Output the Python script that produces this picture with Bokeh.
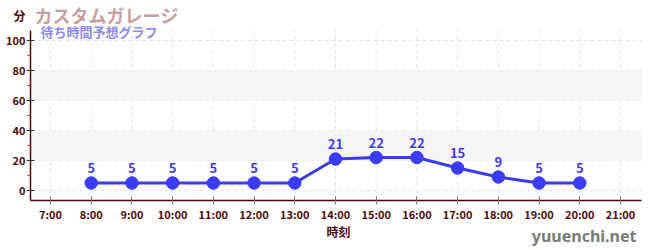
from bokeh.plotting import figure
from bokeh.models import (FixedTicker, BoxAnnotation, Label, ColumnDataSource, Range1d, LabelSet)
from bokeh.core.properties import value
from bokeh.embed import file_html
from bokeh.resources import INLINE

hours = [8, 9, 10, 11, 12, 13, 14, 15, 16, 17, 18, 19, 20]
waits = [5, 5, 5, 5, 5, 5, 21, 22, 22, 15, 9, 5, 5]
x_ticks = list(range(7, 22))
x_tick_labels = {h: f"{h}:00" for h in x_ticks}
y_ticks = [0, 20, 40, 60, 80, 100]
y_minor = [10, 30, 50, 70, 90]
bands = [(20, 40), (60, 80)]
title = "カスタムガレージ"
subtitle = "待ち時間予想グラフ"
y_unit = "分"
x_name = "時刻"
site = "yuuenchi.net"

JP = "Noto Sans CJK JP"
AX = "#4d0a0a"
BLUE = "#3b3bf5"
GRID = "#e4e4e4"

# plot area (data) extent, and whole-canvas range
X_LO, X_HI = 6.51, 21.52
Y_LO, Y_HI = -6.67, 106.7

p = figure(width=650, height=250, output_backend="svg", toolbar_location=None,
           x_range=Range1d(5.772, 21.737), y_range=Range1d(-40.0, 126.67),
           min_border=0)
p.outline_line_color = None
p.background_fill_color = "white"
p.xgrid.grid_line_color = None
p.ygrid.grid_line_color = None

for lo, hi in bands:
    p.add_layout(BoxAnnotation(bottom=lo, top=hi, left=X_LO, right=X_HI, fill_color="#f5f5f5",
                               fill_alpha=1, line_color=None, level="underlay"))

n = len(x_ticks)
p.segment(x0=x_ticks, y0=[Y_LO] * n, x1=x_ticks, y1=[Y_HI] * n,
          line_color=GRID, line_dash="4 3", line_width=1, level="underlay")
m = len(y_ticks)
p.segment(x0=[X_LO] * m, y0=y_ticks, x1=[X_HI] * m, y1=y_ticks,
          line_color=GRID, line_dash="4 3", line_width=1, level="underlay")

xa = p.xaxis[0]
xa.ticker = FixedTicker(ticks=x_ticks)
xa.major_label_overrides = x_tick_labels
xa.fixed_location = Y_LO
xa.bounds = (X_LO, X_HI)
ya = p.yaxis[0]
ya.ticker = FixedTicker(ticks=y_ticks, minor_ticks=y_minor)
ya.fixed_location = X_LO
ya.bounds = (Y_LO, Y_HI)
for a in (xa, ya):
    a.axis_line_color = AX
    a.axis_line_width = 1.5
    a.major_tick_line_color = "#333333"
    a.major_tick_in = 4
    a.major_tick_out = 4
    a.major_label_text_color = AX
    a.major_label_text_font = JP
    a.major_label_text_font_style = "bold"
    a.major_label_text_font_size = "11px"
    a.major_label_standoff = 1
xa.major_tick_line_color = "#777777"
xa.minor_tick_line_color = None
ya.minor_tick_line_color = "#e02020"
ya.minor_tick_out = 3
ya.minor_tick_in = 0

src = ColumnDataSource(dict(x=hours, y=waits, t=[str(v) for v in waits]))
p.line("x", "y", source=src, line_color=BLUE, line_width=3)
p.scatter("x", "y", source=src, size=12.5, fill_color=BLUE, line_color=BLUE)
p.add_layout(LabelSet(x="x", y="y", text="t", source=src, x_offset=0, y_offset=10,
                      text_align="center", text_color=BLUE, text_font=value(JP),
                      text_font_style="bold", text_font_size="13px"))

def lab(text, x, y, size, color, style="bold", align="left", font=JP):
    # x, y: pixels from canvas top-left
    p.add_layout(Label(x=x, y=250 - y, x_units="screen", y_units="screen", text=text,
                       text_font=font, text_font_size=size, text_color=color,
                       text_font_style=style, text_align=align, text_baseline="middle",
                       level="overlay"))

lab(y_unit, 13, 15, "12px", AX)
lab(title, 34, 14, "18px", "#c8a0a0")
lab(subtitle, 40, 31, "13px", "#8c8cf0")
lab(x_name, 338, 231, "12px", AX, align="center")
lab(site, 636, 235, "16px", "#7a7a7a", align="right", font="Noto Sans")

open("out.html", "w").write(file_html(p, INLINE))
